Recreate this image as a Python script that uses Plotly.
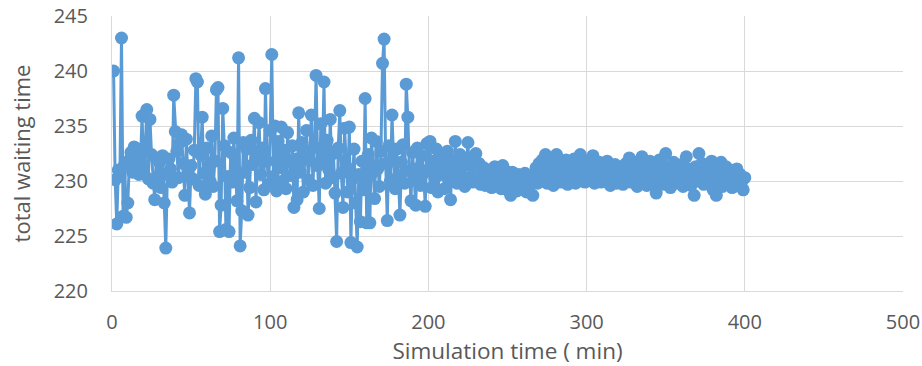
import plotly.graph_objects as go

# Simulation time samples (min)
sim_time = list(range(1, 401))

# total waiting time, x = 1..100
wait_001_100 = [
    240.0, 230.1, 226.1, 231.0, 230.4, 243.0, 226.8, 231.5, 226.7, 228.0,
    231.9, 232.6, 230.8, 233.1, 231.4, 232.9, 230.6, 231.8, 235.9, 231.2,
    233.0, 236.5, 230.2, 235.6, 232.4, 229.8, 228.3, 232.1, 230.0, 231.7,
    229.4, 232.3, 228.0, 223.9, 230.6, 232.0, 231.1, 229.9, 237.8, 234.5,
    232.7, 230.3, 233.5, 234.2, 231.6, 228.7, 233.8, 230.9, 227.1, 231.4,
    230.2, 232.8, 239.3, 239.0, 229.6, 232.4, 235.8, 230.7, 228.8, 233.0,
    231.3, 230.0, 234.1, 229.5, 231.8, 238.3, 238.5, 225.4, 227.8, 236.6,
    233.2, 225.6, 230.4, 225.4, 232.6, 229.9, 233.9, 231.0, 228.2, 241.2,
    224.1, 227.3, 233.5, 230.8, 232.9, 226.9, 229.4, 233.7, 231.5, 235.7,
    228.1, 232.3, 235.3, 230.6, 233.0, 229.2, 238.4, 231.8, 229.7, 234.6,
]

# total waiting time, x = 101..200
wait_101_200 = [
    241.5, 230.4, 235.0, 229.1, 233.6, 231.2, 234.9, 230.0, 232.8, 229.3,
    234.4, 231.7, 230.5, 233.2, 227.6, 232.0, 228.3, 236.2, 230.8, 233.5,
    229.0, 232.7, 234.6, 230.1, 231.9, 236.0, 229.6, 233.1, 239.6, 231.4,
    227.5, 235.2, 232.0, 239.0, 229.8, 233.7, 231.0, 235.6, 230.3, 232.5,
    228.9, 224.5, 233.0, 236.4, 230.7, 227.6, 234.8, 231.3, 229.0, 234.9,
    224.4, 230.2, 232.9, 228.0, 224.0, 230.6, 226.3, 231.8, 229.2, 237.5,
    226.2, 232.4, 226.2, 233.9, 230.8, 228.4, 233.6, 231.1, 229.5, 232.7,
    240.7, 242.9, 231.6, 226.4, 233.2, 230.0, 236.0, 231.8, 229.3, 232.9,
    230.5, 226.9, 231.7, 233.3, 229.8, 238.8, 235.8, 230.9, 228.2, 232.6,
    230.1, 227.8, 233.0, 231.2, 229.6, 232.3, 230.7, 227.7, 233.4, 231.0,
]

# total waiting time, x = 201..300
wait_201_300 = [
    233.6, 229.4, 231.8, 230.2, 232.9, 229.0, 231.5, 230.6, 232.2, 229.3,
    231.0, 232.7, 230.1, 228.3, 231.9, 230.5, 233.6, 229.8, 231.2, 232.4,
    230.0, 231.7, 229.5, 232.0, 233.5, 230.3, 231.4, 229.9, 232.1, 232.5,
    230.4, 231.6, 229.7, 230.8, 231.2, 229.6, 230.7, 230.2, 231.0, 229.4,
    230.6, 231.3, 229.8, 230.5, 231.1, 229.3, 231.4, 230.0, 230.9, 229.2,
    230.4, 228.7, 230.8, 229.7, 230.3, 229.1, 230.6, 229.9, 230.2, 229.5,
    230.7, 229.0, 230.4, 229.6, 230.1, 228.7, 230.5, 231.2, 229.8, 231.6,
    230.3, 231.9, 230.6, 232.4, 229.8, 231.1, 230.4, 231.8, 229.6, 230.9,
    232.4, 230.1, 231.5, 229.9, 231.3, 230.5, 231.9, 229.7, 230.8, 231.6,
    230.2, 232.0, 229.8, 231.0, 230.4, 232.4, 230.0, 231.4, 229.9, 231.1,
]

# total waiting time, x = 301..400
wait_301_400 = [
    230.6, 231.9, 230.2, 232.3, 229.8, 231.2, 230.5, 231.7, 229.9, 230.8,
    231.4, 230.0, 231.8, 230.3, 229.6, 231.0, 230.6, 231.5, 229.8, 230.9,
    230.2, 231.3, 229.7, 230.8, 231.6, 230.1, 232.1, 229.9, 231.2, 230.4,
    231.7, 229.5, 230.9, 231.4, 232.2, 230.0, 231.1, 229.6, 230.7, 231.8,
    229.9, 230.5, 231.3, 228.9, 230.8, 231.9, 230.2, 231.4, 229.7, 232.5,
    230.6, 231.0, 229.4, 230.9, 231.7, 230.1, 231.2, 229.8, 230.6, 231.5,
    229.5, 230.8, 232.2, 230.3, 231.1, 229.6, 230.5, 228.7, 231.3, 230.0,
    232.5, 230.4, 231.6, 229.7, 230.9, 231.4, 229.9, 230.7, 231.8, 229.2,
    230.6, 228.7, 231.2, 230.1, 231.7, 229.5, 230.8, 231.3, 229.8, 230.5,
    231.0, 229.4, 230.7, 230.2, 231.1, 229.6, 230.6, 229.9, 229.2, 230.3,
]

waiting = wait_001_100 + wait_101_200 + wait_201_300 + wait_301_400

x_ticks = [0, 100, 200, 300, 400, 500]
y_ticks = [220, 225, 230, 235, 240, 245]

blue = "#5B9BD5"
grid = "#D9D9D9"
txt = "#595959"
font_family = "Open Sans, Liberation Sans, sans-serif"

fig = go.Figure(
    go.Scatter(
        x=sim_time,
        y=waiting,
        mode="lines+markers",
        line=dict(color=blue, width=3),
        marker=dict(color=blue, size=13),
        showlegend=False,
    )
)

fig.update_layout(
    width=922,
    height=366,
    margin=dict(l=112, r=19, t=16, b=75, autoexpand=False),
    paper_bgcolor="white",
    plot_bgcolor="white",
    font=dict(family=font_family, color=txt, size=20),
)

fig.update_xaxes(
    range=[0, 500],
    tickvals=x_ticks,
    ticktext=[str(v) for v in x_ticks],
    showgrid=True,
    gridcolor=grid,
    gridwidth=1,
    showline=True,
    linecolor=grid,
    linewidth=1,
    zeroline=False,
    ticks="",
    automargin=False,
    tickfont=dict(size=20, color=txt),
    ticklabelstandoff=13,
    title=dict(text="Simulation time ( min)", font=dict(size=22.5, color=txt), standoff=1),
)
fig.update_yaxes(
    range=[220, 245],
    tickvals=y_ticks,
    ticktext=[str(v) for v in y_ticks],
    showgrid=True,
    gridcolor=grid,
    gridwidth=1,
    showline=True,
    linecolor=grid,
    linewidth=1,
    zeroline=False,
    ticks="",
    automargin=False,
    tickfont=dict(size=20, color=txt),
    ticklabelstandoff=19,
    title=dict(text="total waiting time", font=dict(size=22, color=txt), standoff=16),
)

fig.write_html(
    "out.html",
    config={"displayModeBar": False},
    post_script="document.body.style.margin='0';document.body.style.padding='0';",
)
